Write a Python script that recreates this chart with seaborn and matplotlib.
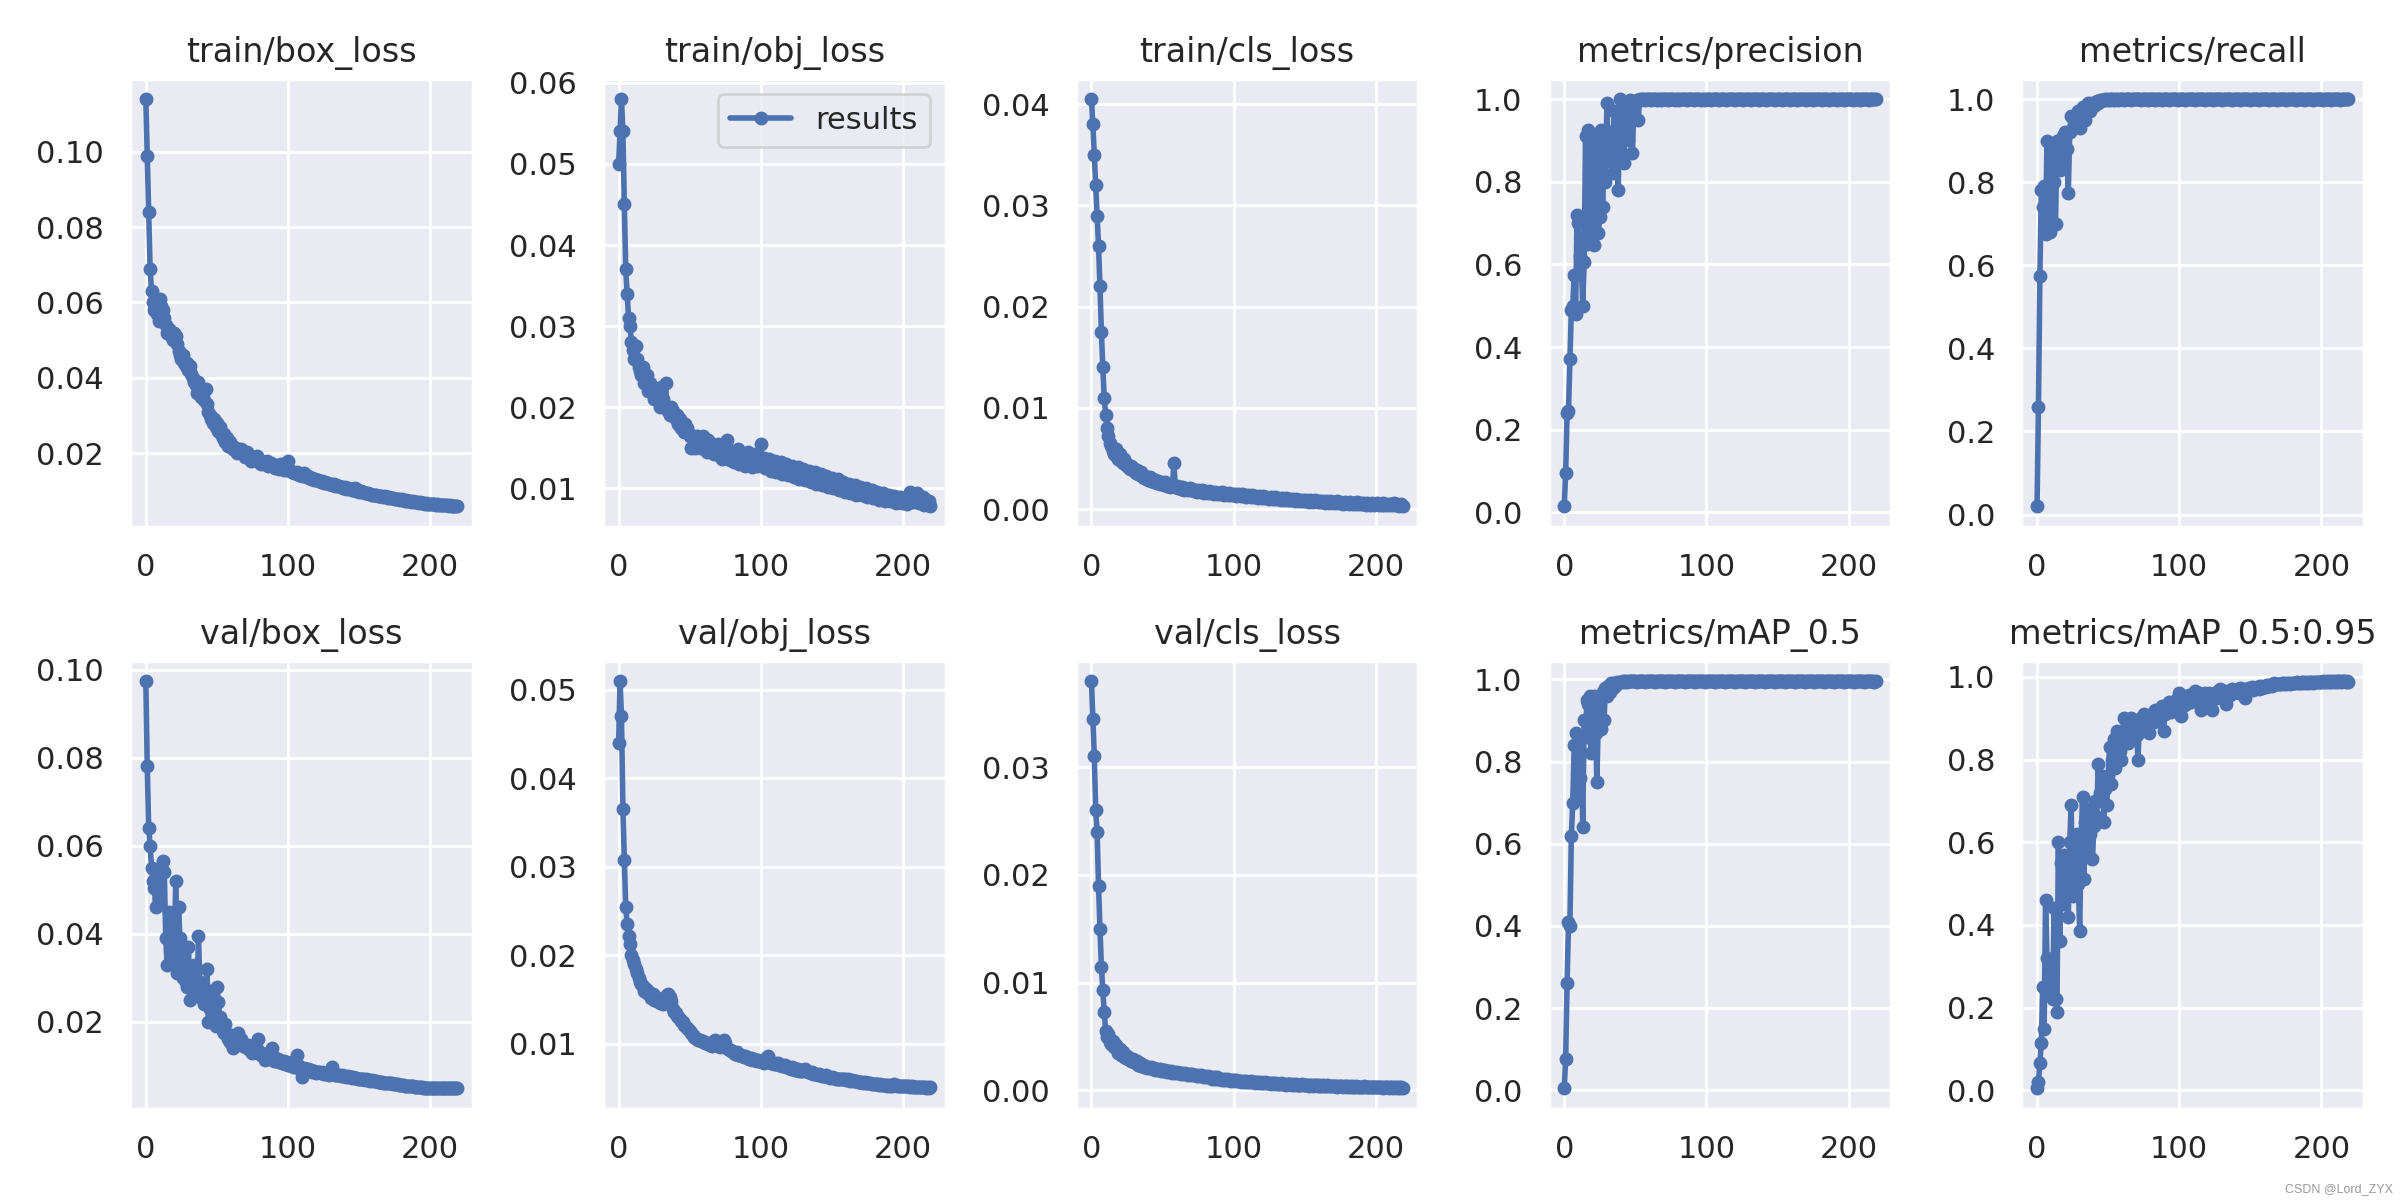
import matplotlib
matplotlib.use("Agg")
import matplotlib.pyplot as plt
import seaborn as sns

# ---------------- data ----------------
epochs = list(range(220))

titles = ["train/box_loss", "train/obj_loss", "train/cls_loss", "metrics/precision", "metrics/recall",
          "val/box_loss", "val/obj_loss", "val/cls_loss", "metrics/mAP_0.5", "metrics/mAP_0.5:0.95"]

train_box_loss = [
    .114, .099, .084, .069, .063, .060, .058, .059, .057, .055,
    .061, .059, .058, .056, .054, .052, .053, .052, .051, .050,
    .052, .051, .049, .047, .046, .045, .046, .044, .043, .044,
    .042, .043, .041, .040, .039, .038, .036, .039, .037, .035,
    .036, .034, .037, .033, .031, .030, .029, .028, .029, .027,
    .028, .026, .027, .025, .024, .025, .023, .024, .022, .023,
    .022, .021, .0215, .021, .020, .021, .0205, .0212, .020, .0198,
    .019, .0202, .0195, .019, .018, .0188, .0182, .0186, .0192, .018,
    .0175, .0172, .018, .0176, .017, .0178, .0166, .017, .0174, .0168,
    .0165, .016, .0168, .0163, .0158, .0172, .016, .0155, .0158, .0154,
    .0178, .0155, .0152, .015, .0148, .0146, .015, .0144, .0142, .0145,
    .014, .0146, .0138, .0136, .0139, .0134, .0132, .0135, .013, .0131,
    .0128, .013, .0126, .0124, .0127, .0122, .0123, .012, .0122, .0118,
    .0119, .0116, .0118, .0114, .0115, .0112, .0113, .011, .0111, .0108,
    .0109, .0106, .0107, .0104, .0106, .0102, .0103, .0108, .010, .0102,
    .0098, .0099, .0096, .0097, .0094, .0095, .0093, .0091, .0092, .009,
    .0089, .0088, .0089, .0087, .0086, .0087, .0085, .0084, .0085, .0083,
    .0082, .0083, .0081, .008, .0081, .0079, .0078, .0079, .0077, .0076,
    .0077, .0075, .0074, .0075, .0073, .0072, .0073, .0071, .0072, .007,
    .0069, .007, .0068, .0069, .0067, .0068, .0066, .0067, .0066, .0065,
    .0066, .0064, .0065, .0064, .0063, .0064, .0063, .0062, .0063, .0062,
    .0061, .0062, .0061, .006, .0061, .006, .006, .0059, .006, .0059,
]

train_obj_loss = [
    .050, .054, .058, .054, .045, .037, .034, .031, .030, .028,
    .027, .026, .0275, .026, .025, .0245, .024, .025, .023, .0235,
    .024, .022, .023, .0225, .022, .021, .022, .0215, .021, .020,
    .0225, .021, .020, .023, .020, .0195, .019, .020, .0195, .019,
    .0185, .019, .018, .0185, .0175, .018, .017, .018, .0175, .017,
    .0165, .015, .0165, .016, .015, .0165, .016, .015, .0155, .0165,
    .015, .0158, .0145, .016, .0152, .0148, .0155, .0142, .015, .0145,
    .0155, .014, .0148, .0136, .0145, .0138, .016, .0142, .0135, .0146,
    .0138, .0132, .0144, .0136, .0148, .013, .014, .0134, .0142, .0128,
    .0136, .0145, .013, .0138, .0126, .0134, .0142, .0128, .0136, .0132,
    .0155, .013, .0138, .0125, .0132, .0128, .0136, .0122, .013, .0126,
    .0134, .012, .0128, .0124, .0132, .0118, .0126, .0122, .013, .0116,
    .0124, .012, .0128, .0114, .0122, .0118, .0126, .0112, .012, .0116,
    .0124, .011, .0118, .0114, .0122, .0108, .0116, .0112, .012, .0106,
    .0114, .011, .0118, .0104, .0112, .0108, .0115, .0102, .011, .0106,
    .0113, .010, .0108, .0104, .0112, .0098, .0106, .0102, .0108, .0096,
    .0104, .010, .0106, .0094, .0102, .0098, .0104, .0092, .010, .0096,
    .0102, .0092, .0098, .0094, .010, .009, .0096, .0092, .0098, .0088,
    .0094, .009, .0096, .0086, .0092, .0088, .0094, .0085, .009, .0087,
    .0092, .0084, .009, .0086, .0091, .0082, .0088, .0085, .009, .0082,
    .0087, .0084, .0089, .0081, .0086, .0095, .0088, .0083, .0092, .0086,
    .0094, .0082, .0088, .0085, .009, .008, .0086, .0082, .0084, .0078,
]

train_cls_loss = [
    .0405, .038, .035, .032, .029, .026, .022, .0175, .014, .011,
    .0093, .008, .0072, .0065, .0062, .0058, .0055, .006, .0052, .005,
    .0055, .0048, .0046, .005, .0044, .0045, .0042, .004, .0043, .0041,
    .0038, .0036, .0039, .0035, .0034, .0037, .0032, .0031, .0033, .003,
    .0029, .0032, .0028, .003, .0027, .0029, .0026, .0028, .0025, .0027,
    .0026, .0024, .0027, .0023, .0025, .0022, .0024, .0023, .0046, .0022,
    .0023, .0021, .0022, .002, .0022, .0019, .0021, .002, .0019, .0021,
    .0019, .002, .0018, .0019, .0017, .0019, .0018, .0017, .0019, .0016,
    .0018, .0017, .0016, .0018, .0016, .0017, .0015, .0017, .0016, .0015,
    .0016, .0015, .0017, .0014, .0016, .0015, .0014, .0016, .0014, .0015,
    .0014, .0015, .0013, .0015, .0014, .0013, .0015, .0013, .0014, .0012,
    .0014, .0013, .0012, .0014, .0012, .0013, .0012, .0011, .0013, .0012,
    .0011, .0013, .0011, .0012, .0011, .001, .0012, .0011, .001, .0012,
    .001, .0011, .001, .0009, .0011, .001, .0009, .0011, .0009, .001,
    .0009, .001, .0009, .0008, .001, .0009, .0008, .0009, .0008, .0009,
    .0008, .0009, .0008, .0007, .0009, .0008, .0007, .0009, .0008, .0007,
    .0008, .0007, .0008, .0007, .0006, .0008, .0007, .0006, .0008, .0007,
    .0006, .0007, .0006, .0008, .0006, .0007, .0006, .0005, .0007, .0006,
    .0006, .0005, .0007, .0006, .0005, .0006, .0005, .0007, .0005, .0006,
    .0005, .0006, .0005, .0004, .0006, .0005, .0004, .0006, .0005, .0004,
    .0005, .0006, .0004, .0005, .0004, .0006, .0004, .0005, .0004, .0005,
    .0004, .0005, .0004, .0006, .0004, .0005, .0003, .0004, .0005, .0003,
]

precision = [
    .015, .095, .24, .245, .37, .49, .50, .575, .48, .72,
    .70, .62, .60, .50, .606, .91, .65, .925, .66, .90,
    .72, .647, .91, .88, .675, .715, .925, .74, .89, .80,
    .99, .85, .92, .88, .82, .97, .90, .86, .78, 1.0,
    .92, .95, .845, .97, .99, .90, .998, .96, .87, .99,
    .995, .998, .95, .999, .998, .999, .999, .998, .999, .999,
    .999, .998, .999, 1.0, .999, .998, .999, .999, .998, .999,
    .999, 1.0, .999, .998, .999, .999, 1.0, .999, .998, .999,
    .999, .998, .999, 1.0, .999, .999, .998, .999, .999, 1.0,
    .999, .998, .999, .999, 1.0, .999, .998, .999, .999, .998,
    .999, 1.0, .999, .998, .999, .999, 1.0, .999, .999, .998,
    .999, .999, 1.0, .999, .998, .999, .999, 1.0, .999, .999,
    .998, .999, .999, 1.0, .999, .999, .998, .999, 1.0, .999,
    .999, .998, .999, .999, 1.0, .999, .999, .998, .999, 1.0,
    .999, .999, .998, .999, 1.0, .999, .999, .999, .998, .999,
    1.0, .999, .999, .998, .999, .999, 1.0, .999, .999, .998,
    .999, 1.0, .999, .999, .998, .999, 1.0, .999, .999, .999,
    .998, .999, 1.0, .999, .999, .998, .999, 1.0, .999, .999,
    .999, .998, .999, 1.0, .999, .999, .998, .999, 1.0, .999,
    .999, .999, .998, .999, 1.0, .999, .999, .998, .999, 1.0,
    .999, .999, .999, .998, .999, 1.0, .999, .999, .998, .999,
    1.0, .999, .999, .999, .998, .999, 1.0, .999, .999, .999,
]

recall = [
    .02, .26, .575, .78, .74, .79, .675, .90, .70, .68,
    .88, .86, .80, .70, .90, .85, .83, .89, .91, .86,
    .92, .88, .775, .92, .96, .93, .95, .94, .96, .97,
    .93, .96, .98, .97, .95, .98, .99, .97, .99, .98,
    .99, .985, .995, .99, .998, .995, .998, .997, .999, .998,
    .999, .998, 1.0, .999, .997, .999, 1.0, .998, .999, 1.0,
    .999, .998, 1.0, .999, .999, 1.0, .998, .999, 1.0, .999,
    .999, 1.0, .999, .998, 1.0, .999, .999, 1.0, .998, .999,
    1.0, .999, .999, .998, 1.0, .999, 1.0, .999, .998, 1.0,
    .999, .999, 1.0, .998, .999, 1.0, .999, .999, 1.0, .998,
    .999, 1.0, .999, .999, .998, 1.0, .999, 1.0, .999, .999,
    1.0, .998, .999, 1.0, .999, .999, 1.0, .999, .998, 1.0,
    .999, .999, 1.0, .999, .998, .999, 1.0, .999, .999, 1.0,
    .998, .999, 1.0, .999, .999, 1.0, .999, .998, .999, 1.0,
    .999, .999, 1.0, .998, .999, 1.0, .999, .999, 1.0, .999,
    .998, .999, 1.0, .999, .999, 1.0, .998, .999, 1.0, .999,
    .999, 1.0, .999, .998, .999, 1.0, .999, .999, 1.0, .998,
    .999, 1.0, .999, .999, 1.0, .998, .999, 1.0, .999, .999,
    1.0, .999, .998, .999, 1.0, .999, .999, 1.0, .998, .999,
    1.0, .999, .999, 1.0, .998, .999, 1.0, .999, .999, 1.0,
    .999, .998, .999, 1.0, .999, .999, 1.0, .998, .999, 1.0,
    .999, .999, 1.0, .998, .999, 1.0, .999, .999, 1.0, .999,
]

val_box_loss = [
    .0974, .078, .064, .060, .055, .052, .0505, .046, .050, .048,
    .053, .055, .0566, .054, .039, .0328, .045, .043, .036, .038,
    .034, .052, .031, .046, .039, .035, .030, .033, .029, .028,
    .037, .025, .030, .027, .033, .029, .026, .0395, .029, .027,
    .025, .024, .026, .032, .020, .023, .027, .022, .021, .019,
    .028, .0245, .021, .019, .018, .0175, .0195, .017, .016, .0155,
    .017, .014, .016, .0155, .015, .0175, .015, .016, .0145, .015,
    .0145, .014, .0148, .0135, .0142, .013, .014, .0132, .0138, .016,
    .013, .0125, .0128, .012, .0113, .0125, .0118, .0122, .0115, .014,
    .0112, .0118, .011, .0115, .0108, .0112, .0106, .011, .0105, .0108,
    .0102, .0106, .010, .0104, .0098, .0102, .0125, .0096, .010, .0095,
    .0075, .0094, .0092, .009, .0093, .0088, .009, .0087, .0089, .0086,
    .0083, .0087, .0085, .0084, .0086, .0082, .0084, .0081, .0083, .008,
    .0082, .0098, .0081, .0079, .008, .0078, .0079, .0077, .0078, .0076,
    .0077, .0075, .0076, .0074, .0075, .0073, .0074, .0072, .0072, .0071,
    .0071, .007, .0069, .007, .0068, .0069, .0067, .0068, .0066, .0067,
    .0066, .0065, .0065, .0064, .0064, .0063, .0063, .0062, .0062, .0061,
    .0061, .006, .006, .006, .0059, .0059, .0058, .0058, .0057, .0057,
    .0056, .0056, .0055, .0055, .0054, .0054, .0054, .0053, .0053, .0052,
    .0052, .0052, .0051, .0051, .0051, .005, .005, .005, .005, .0049,
    .0049, .0049, .0049, .0049, .0049, .0049, .0049, .0049, .0049, .0049,
    .0049, .0049, .0049, .0049, .0049, .0049, .0049, .0049, .0049, .0049,
]

val_obj_loss = [
    .044, .051, .047, .0366, .0308, .0255, .0236, .0222, .0213, .020,
    .0195, .019, .0185, .018, .0175, .017, .0168, .0165, .016, .0162,
    .0158, .016, .0155, .0152, .0156, .015, .0153, .0148, .0151, .0146,
    .015, .0145, .0148, .0152, .0155, .0157, .0153, .0148, .014, .0136,
    .0135, .0132, .013, .0128, .0126, .0125, .0122, .012, .0118, .0117,
    .0115, .0112, .011, .0108, .0107, .0106, .0105, .0104, .0103, .0103,
    .0102, .0101, .0101, .010, .0099, .0099, .0098, .0103, .0105, .0102,
    .0098, .0097, .0099, .0102, .0104, .0101, .0096, .0094, .0093, .0092,
    .0092, .009, .0089, .0091, .0088, .0087, .0088, .0086, .0085, .0086,
    .0085, .0084, .0083, .0084, .0082, .0083, .0082, .0081, .0082, .0081,
    .0081, .008, .0079, .0081, .0085, .0086, .008, .0078, .0078, .0077,
    .0078, .0077, .0078, .0076, .0076, .0075, .0075, .0076, .0074, .0074,
    .0073, .0072, .0074, .0073, .0071, .0071, .0072, .007, .007, .0069,
    .0071, .0072, .0069, .0068, .0068, .0067, .0068, .0066, .0066, .0066,
    .0065, .0066, .0065, .0064, .0064, .0064, .0065, .0063, .0063, .0062,
    .0063, .0062, .0062, .0061, .0061, .0061, .006, .006, .006, .006,
    .0059, .006, .0059, .0058, .0059, .0058, .0058, .0058, .0057, .0057,
    .0057, .0057, .0056, .0057, .0056, .0056, .0056, .0056, .0055, .0055,
    .0055, .0055, .0055, .0054, .0055, .0054, .0054, .0054, .0054, .0053,
    .0054, .0053, .0053, .0054, .0055, .0054, .0053, .0053, .0053, .0052,
    .0053, .0052, .0052, .0052, .0052, .0051, .0052, .0051, .0051, .0051,
    .0051, .0051, .0051, .0051, .0051, .0051, .005, .0051, .005, .0051,
]

val_cls_loss = [
    .038, .0345, .031, .026, .024, .019, .015, .0115, .0093, .0073,
    .0055, .005, .0052, .0045, .0043, .0046, .004, .0042, .0038, .0035,
    .0038, .0033, .0036, .0031, .003, .0032, .0029, .0028, .0027, .0029,
    .0026, .0025, .0027, .0024, .0025, .0023, .0024, .0022, .0023, .0021,
    .0022, .0021, .0022, .002, .0021, .0019, .002, .0019, .002, .0018,
    .0019, .0018, .0019, .0017, .0018, .0017, .0018, .0016, .0017, .0016,
    .0017, .0016, .0016, .0015, .0016, .0015, .0016, .0015, .0014, .0015,
    .0014, .0015, .0014, .0014, .0013, .0014, .0013, .0014, .0013, .0012,
    .0013, .0012, .0013, .0012, .0012, .0011, .0012, .0011, .0012, .0011,
    .0011, .0011, .001, .0011, .001, .0011, .001, .001, .0009, .001,
    .001, .0009, .001, .0009, .0009, .0009, .0008, .0009, .0008, .0009,
    .0008, .0008, .0009, .0008, .0008, .0007, .0008, .0008, .0007, .0008,
    .0007, .0007, .0008, .0007, .0007, .0007, .0006, .0007, .0007, .0006,
    .0007, .0006, .0006, .0007, .0006, .0006, .0006, .0005, .0006, .0006,
    .0006, .0005, .0006, .0005, .0006, .0005, .0005, .0005, .0006, .0005,
    .0005, .0005, .0005, .0004, .0005, .0005, .0004, .0005, .0005, .0004,
    .0005, .0004, .0004, .0005, .0004, .0004, .0005, .0004, .0004, .0004,
    .0004, .0004, .0004, .0003, .0004, .0004, .0004, .0003, .0004, .0004,
    .0003, .0004, .0003, .0004, .0003, .0003, .0004, .0003, .0003, .0003,
    .0003, .0003, .0004, .0003, .0003, .0003, .0003, .0003, .0003, .0003,
    .0003, .0003, .0003, .0003, .0003, .0002, .0003, .0003, .0003, .0002,
    .0003, .0003, .0002, .0003, .0003, .0002, .0003, .0002, .0003, .0002,
]

map50 = [
    .005, .075, .26, .41, .40, .62, .70, .84, .87, .72,
    .85, .76, .86, .64, .90, .86, .95, .94, .96, .82,
    .94, .96, .87, .75, .92, .96, .88, .97, .90, .98,
    .96, .985, .97, .99, .98, .99, .985, .993, .99, .994,
    .993, .995, .994, .995, .994, .995, .995, .995, .995, .995,
    .995, .994, .995, .995, .996, .995, .995, .994, .995, .995,
    .995, .995, .996, .995, .994, .995, .995, .995, .996, .995,
    .995, .994, .995, .995, .995, .996, .995, .995, .994, .995,
    .995, .995, .996, .995, .995, .994, .995, .995, .995, .996,
    .995, .995, .994, .995, .995, .995, .996, .995, .995, .994,
    .995, .995, .995, .996, .995, .995, .994, .995, .995, .995,
    .996, .995, .995, .994, .995, .995, .995, .996, .995, .995,
    .994, .995, .995, .995, .996, .995, .995, .994, .995, .995,
    .995, .996, .995, .995, .994, .995, .995, .995, .996, .995,
    .995, .994, .995, .995, .995, .996, .995, .995, .994, .995,
    .995, .995, .996, .995, .995, .994, .995, .995, .995, .996,
    .995, .995, .994, .995, .995, .995, .996, .995, .995, .994,
    .995, .995, .995, .996, .995, .995, .994, .995, .995, .995,
    .996, .995, .995, .994, .995, .995, .995, .996, .995, .995,
    .994, .995, .995, .995, .996, .995, .995, .994, .995, .995,
    .995, .996, .995, .995, .994, .995, .995, .995, .996, .995,
    .995, .994, .995, .995, .995, .996, .995, .995, .994, .995,
]

map50_95 = [
    .005, .02, .067, .115, .25, .148, .46, .32, .23, .26,
    .30, .22, .44, .22, .19, .60, .36, .55, .45, .57,
    .50, .55, .42, .60, .69, .47, .58, .55, .62, .50,
    .385, .60, .71, .51, .65, .58, .68, .62, .66, .56,
    .64, .70, .66, .79, .72, .70, .76, .65, .73, .69,
    .76, .83, .74, .80, .85, .78, .87, .84, .82, .80,
    .86, .90, .85, .88, .84, .89, .90, .87, .89, .88,
    .86, .80, .89, .90, .88, .91, .89, .90, .87, .865,
    .90, .91, .89, .92, .90, .91, .895, .92, .93, .87,
    .91, .93, .92, .94, .915, .935, .93, .92, .945, .935,
    .96, .905, .94, .93, .95, .935, .945, .955, .94, .95,
    .945, .966, .95, .94, .96, .92, .955, .95, .96, .945,
    .955, .96, .95, .92, .955, .96, .95, .965, .955, .97,
    .96, .955, .965, .935, .96, .965, .955, .97, .96, .965,
    .965, .97, .96, .974, .965, .97, .95, .97, .965, .972,
    .97, .975, .968, .974, .972, .976, .97, .978, .974, .975,
    .978, .976, .98, .978, .981, .979, .982, .985, .982, .983,
    .984, .983, .985, .984, .985, .984, .986, .985, .984, .986,
    .985, .986, .985, .987, .986, .985, .987, .986, .987, .986,
    .987, .986, .988, .987, .986, .988, .987, .988, .987, .988,
    .988, .99, .988, .987, .989, .988, .989, .988, .989, .988,
    .989, .988, .989, .99, .988, .989, .989, .988, .989, .988,
]

series = [train_box_loss, train_obj_loss, train_cls_loss, precision, recall,
          val_box_loss, val_obj_loss, val_cls_loss, map50, map50_95]

# ---------------- plot ----------------
sns.set_theme(style="darkgrid")
plt.rcParams["font.family"] = ["DejaVu Sans"]
color = sns.color_palette("deep")[0]

fig, axes = plt.subplots(2, 5, figsize=(12, 6), dpi=200)
axes = axes.ravel()
for i, (title, vals) in enumerate(zip(titles, series)):
    ax = axes[i]
    kw = dict(label="results") if i == 1 else {}
    sns.lineplot(x=epochs[:len(vals)], y=vals, ax=ax, color=color, marker=".",
                 markersize=8, linewidth=2, markeredgecolor=color,
                 markeredgewidth=1, **kw)
    ax.set_title(title, fontsize=12)
    ax.set_xlabel("")
    ax.set_ylabel("")
    if i == 1:
        ax.legend(loc="upper right", fontsize=11)
    elif ax.get_legend() is not None:
        ax.get_legend().remove()

fig.tight_layout()
fig.text(0.997, 0.004, "CSDN @Lord_ZYX", ha="right", va="bottom",
         fontsize=4.5, color="#9a9a9a", family=["Liberation Sans", "DejaVu Sans"])
fig.savefig("out.png", dpi=200)
